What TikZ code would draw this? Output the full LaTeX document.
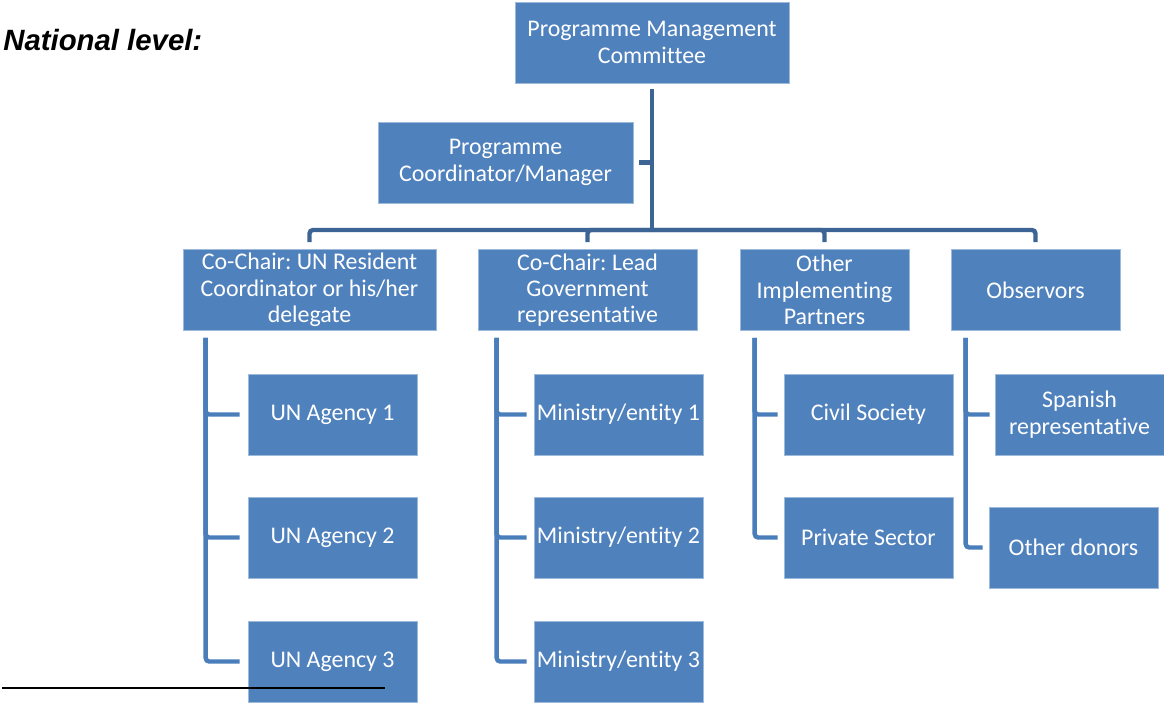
\documentclass[tikz,border=0pt]{standalone}
\usepackage{fontspec}
\setmainfont[Ligatures=NoCommon]{Carlito}
\newfontfamily\arialfont{Liberation Sans}
\frenchspacing
\usetikzlibrary{positioning}
\definecolor{boxBlue}{HTML}{4F81BD}
\definecolor{linkDark}{HTML}{3C6494}
\definecolor{linkBlue}{HTML}{4A7EBB}

\begin{document}
\begin{tikzpicture}[x=0.02cm, y=-0.02cm,
    box/.style={draw=boxBlue!55!white, line width=0.4pt, fill=boxBlue, text=white, align=center,
      inner sep=0pt, minimum width=#1, minimum height=1.62cm, font=\fontsize{13.6}{15}\selectfont},
    topline/.style={draw=linkDark, line width=2.5pt},
    subline/.style={draw=linkBlue, line width=2.5pt, rounded corners=2pt}]
  \useasboundingbox (0,0) rectangle (1164,704);
  \node[font=\arialfont\bfseries\itshape\fontsize{16.7}{20}\selectfont, anchor=base west, inner sep=0pt] (title) at (3,50) {National level:};
  % committee and coordinator
  \node[box=5.48cm] (pmc) at (652,42.5) {Programme Management\\Committee};
  \node[box=5.1cm] (pcm) at (505.5,162.5) {Programme\\Coordinator/Manager};
  % co-chairs and others
  \node[box=5.06cm] (unchair) at (309.5,290) {Co-Chair: UN Resident\\Coordinator or his/her\\delegate};
  \node[box=4.38cm] (govchair) at (587.5,290) {Co-Chair: Lead\\Government\\representative};
  \node[box=3.38cm] (partners) at (824.5,290) {Other\\Implementing\\Partners};
  \node[box=3.38cm] (observers) at (1035.5,290) {Observors};
  % lower level
  \foreach \k/\y in {1/414.5,2/537.5,3/661.5} {
    \node[box=3.38cm] (agency\k) at (332.5,\y) {UN Agency \k};
    \node[box=3.38cm] (ministry\k) at (618.5,\y) {Ministry/entity \k};
  }
  \node[box=3.38cm] (civil) at (868.5,414.5) {Civil Society};
  \node[box=3.38cm] (private) at (868.5,537.5) {Private Sector};
  \node[box=3.38cm] (spanish) at (1079.5,414.5) {Spanish\\representative};
  \node[box=3.38cm] (donors) at (1073.5,547.5) {Other donors};
  % upper connectors
  \coordinate (hub) at (652,230);
  \draw[topline, shorten <=0.12cm] (pmc) -- (hub);
  \draw[topline, shorten <=0.12cm] (pcm) -- (pcm -| hub);
  \foreach \n in {unchair,govchair,partners,observers}
    \draw[topline, rounded corners=2pt, shorten >=0.14cm] (hub) -| (\n);
  % lower connectors
  \foreach \k in {1,2,3} {
    \draw[subline, shorten <=0.14cm, shorten >=0.16cm] ([xshift=0.46cm]unchair.south west) |- (agency\k);
    \draw[subline, shorten <=0.14cm, shorten >=0.14cm] ([xshift=0.38cm]govchair.south west) |- (ministry\k);
  }
  \foreach \n in {civil,private}
    \draw[subline, shorten <=0.14cm, shorten >=0.12cm] ([xshift=0.3cm]partners.south west) |- (\n);
  \draw[subline, shorten <=0.14cm, shorten >=0.1cm] ([xshift=0.3cm]observers.south west) |- (spanish);
  \draw[subline, shorten <=0.14cm, shorten >=0.12cm] ([xshift=0.3cm]observers.south west) |- (donors);
  % footnote rule
  \draw[black, line width=1.2pt] (2,688) -- (385,688);
\end{tikzpicture}
\end{document}
